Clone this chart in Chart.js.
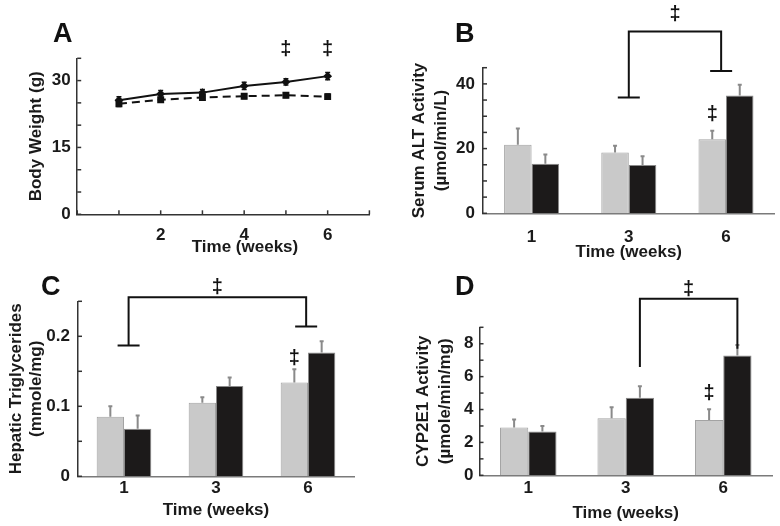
<!DOCTYPE html>
<html>
<head>
<meta charset="utf-8">
<script src="https://cdn.jsdelivr.net/npm/chart.js@4.4.1/dist/chart.umd.min.js"></script>
<style>
  body { margin: 0; background: #fff; }
  #fig { position: relative; width: 780px; height: 526px; }
  .panel { position: absolute; width: 390px; height: 263px; }
  .letter { position: absolute; font: bold 27px Arial, "Liberation Sans", sans-serif; line-height: 1; color: #111; }
</style>
</head>
<body>
<div id="fig">
  <div class="panel" style="left:0;top:0"><canvas id="chartA" width="390" height="263"></canvas></div>
  <div class="panel" style="left:390px;top:0"><canvas id="chartB" width="390" height="263"></canvas></div>
  <div class="panel" style="left:0;top:263px"><canvas id="chartC" width="390" height="263"></canvas></div>
  <div class="panel" style="left:390px;top:263px"><canvas id="chartD" width="390" height="263"></canvas></div>
  <div class="letter" style="left:53px;top:20px">A</div>
  <div class="letter" style="left:455px;top:20px">B</div>
  <div class="letter" style="left:41px;top:273px">C</div>
  <div class="letter" style="left:455px;top:273px">D</div>
</div>
<script>
// ---- datos ----
const weeksA = [1, 2, 3, 4, 5, 6];
const weightSolid = [25.6, 27.0, 27.3, 28.8, 29.7, 31.0];
const weightSolidErr = [0.8, 0.8, 0.7, 0.8, 0.7, 0.8];
const weightDashed = [24.8, 25.7, 26.2, 26.5, 26.7, 26.4];
const weightDashedErr = [0.6, 0.5, 0.5, 0.5, 0.5, 0.6];
const yTicksA = [0, 15, 30];
const xTicksA = [2, 4, 6];

const weeks = ['1', '3', '6'];

const altGray = [21.2, 18.8, 22.9];
const altGrayErr = [5.0, 2.1, 2.6];
const altBlack = [15.3, 14.9, 36.4];
const altBlackErr = [2.9, 2.7, 3.3];
const yTicksB = [0, 20, 40];

const tgGray = [0.085, 0.105, 0.134];
const tgGrayErr = [0.015, 0.008, 0.019];
const tgBlack = [0.068, 0.129, 0.177];
const tgBlackErr = [0.019, 0.012, 0.016];
const yTicksC = ['0', '0.1', '0.2'];

const cypGray = [2.9, 3.47, 3.37];
const cypGrayErr = [0.5, 0.67, 0.65];
const cypBlack = [2.66, 4.71, 7.29];
const cypBlackErr = [0.34, 0.71, 0.63];
const yTicksD = [0, 2, 4, 6, 8];

// marcas de significancia (x: valor del eje x o [dataset, indice]; y: valor)
const daggersA = [{x: 5, y: 36.9}, {x: 6, y: 36.9}];
const bracketB = {from: 1, to: 1.95, top: 56.2, left: 35.8, right: 44, mark: 61.5, cap: true};
const daggersB = [{x: [0, 2], y: 30.4}];
const bracketC = {from: 0.05, to: 1.98, top: 0.2557, left: 0.1867, right: 0.214, mark: 0.27, cap: true};
const daggersC = [{x: [0, 2], y: 0.169}];
const bracketD = {from: [1, 1], to: [1, 2], top: 10.74, left: 6.58, right: 7.7, mark: 11.3, cap: false};
const daggersD = [{x: [0, 2], y: 5.0}];

Chart.defaults.font.family = 'Arial, "Liberation Sans", sans-serif';
Chart.defaults.font.weight = 'bold';
Chart.defaults.color = '#1a1a1a';
Chart.defaults.animation = false;
Chart.defaults.plugins.legend.display = false;
Chart.defaults.plugins.tooltip.enabled = false;

function xPos(chart, v) {
  if (Array.isArray(v)) return chart.getDatasetMeta(v[0]).data[v[1]].x;
  return chart.scales.x.getPixelForValue(v);
}

// marcas de los ejes hacia adentro
const inTicks = {
  id: 'inTicks',
  afterDraw(chart, args, opts) {
    const ctx = chart.ctx;
    ctx.save();
    ctx.strokeStyle = '#333';
    ctx.lineWidth = 1.5;
    (opts.axes || []).forEach(id => {
      const sc = chart.scales[id];
      sc.ticks.forEach(t => {
        const p = sc.getPixelForValue(t.value);
        ctx.beginPath();
        if (sc.isHorizontal()) { ctx.moveTo(p, sc.top); ctx.lineTo(p, sc.top - 4); }
        else { ctx.moveTo(sc.right, p); ctx.lineTo(sc.right + 4, p); }
        ctx.stroke();
      });
    });
    ctx.restore();
  }
};

const errorBars = {
  id: 'errorBars',
  afterDatasetsDraw(chart) {
    const ctx = chart.ctx, y = chart.scales.y;
    chart.data.datasets.forEach((ds, i) => {
      if (!ds.errors) return;
      const meta = chart.getDatasetMeta(i);
      ctx.save();
      ctx.strokeStyle = ds.errorColor;
      ctx.lineWidth = ds.errorWidth;
      meta.data.forEach((el, j) => {
        const raw = ds.data[j];
        const val = typeof raw === 'object' ? raw.y : raw;
        const top = y.getPixelForValue(val + ds.errors[j]);
        const bot = ds.errorBoth ? y.getPixelForValue(val - ds.errors[j]) : el.y;
        const c = ds.errorCap;
        ctx.beginPath();
        ctx.moveTo(el.x, bot); ctx.lineTo(el.x, top);
        ctx.moveTo(el.x - c, top); ctx.lineTo(el.x + c, top);
        if (ds.errorBoth) { ctx.moveTo(el.x - c, bot); ctx.lineTo(el.x + c, bot); }
        ctx.stroke();
      });
      ctx.restore();
    });
  }
};

const marks = {
  id: 'marks',
  afterDraw(chart, args, opts) {
    const ctx = chart.ctx, y = chart.scales.y;
    ctx.save();
    ctx.strokeStyle = '#111';
    ctx.fillStyle = '#111';
    ctx.lineWidth = 2;
    ctx.textAlign = 'center';
    ctx.textBaseline = 'middle';
    if (opts.xTitle) {
      // titulo del eje x de A, centrado sobre la semana 4 como en la figura
      ctx.font = 'bold 17px Arial, "Liberation Sans", sans-serif';
      ctx.fillStyle = '#1a1a1a';
      ctx.fillText(opts.xTitle.text, xPos(chart, opts.xTitle.at), opts.xTitle.y);
      ctx.fillStyle = '#111';
    }
    ctx.font = 'bold 20px Arial, "Liberation Sans", sans-serif';
    const b = opts.bracket;
    if (b) {
      const x1 = xPos(chart, b.from), x2 = xPos(chart, b.to);
      const yt = y.getPixelForValue(b.top);
      const y1 = y.getPixelForValue(b.left), y2 = y.getPixelForValue(b.right);
      ctx.beginPath();
      ctx.moveTo(x1, y1); ctx.lineTo(x1, yt); ctx.lineTo(x2, yt); ctx.lineTo(x2, y2);
      if (b.cap) {
        ctx.moveTo(x1 - 11, y1); ctx.lineTo(x1 + 11, y1);
        ctx.moveTo(x2 - 11, y2); ctx.lineTo(x2 + 11, y2);
      }
      ctx.stroke();
      ctx.fillText('\u2021', (x1 + x2) / 2, y.getPixelForValue(b.mark));
    }
    (opts.daggers || []).forEach(d => {
      ctx.fillText('\u2021', xPos(chart, d.x), y.getPixelForValue(d.y));
    });
    ctx.restore();
  }
};

// fija el área del gráfico: left/top/right/bottom en px del canvas
function frame(left, top, right, bottom) {
  return {
    padding: {left: 0, top: top, right: 390 - right, bottom: 0},
    fitX: s => { s.height = 263 - bottom; },
    fitY: s => { s.width = left; }
  };
}

function yTitle(text, lh, pad) {
  return {display: true, text: text, font: {size: 17, weight: 'bold', lineHeight: lh}, padding: {top: pad, bottom: 0}};
}
function xTitle(pad) {
  return {display: true, text: 'Time (weeks)', font: {size: 17, weight: 'bold'}, padding: {top: 0, bottom: pad}};
}

// ---- A ----
const fA = frame(77.2, 58.3, 369.4, 214.3);
new Chart(document.getElementById('chartA'), {
  type: 'line',
  data: {
    datasets: [{
      data: weeksA.map((w, i) => ({x: w, y: weightSolid[i]})),
      borderColor: '#111', borderWidth: 2,
      pointStyle: 'rectRot', pointRadius: 3, pointBackgroundColor: '#111', pointBorderColor: '#111',
      errors: weightSolidErr, errorBoth: true, errorColor: '#111', errorWidth: 1.5, errorCap: 2.5
    }, {
      data: weeksA.map((w, i) => ({x: w, y: weightDashed[i]})),
      borderColor: '#111', borderWidth: 2, borderDash: [8, 5],
      pointStyle: 'rect', pointRadius: 3.5, pointBackgroundColor: '#111', pointBorderColor: '#111',
      errors: weightDashedErr, errorBoth: true, errorColor: '#111', errorWidth: 1.5, errorCap: 2.5
    }]
  },
  options: {
    responsive: false, devicePixelRatio: 1,
    layout: {padding: fA.padding},
    scales: {
      x: {
        type: 'linear', min: 0, max: 7, afterFit: fA.fitX,
        grid: {display: false, drawTicks: false},
        border: {color: '#333', width: 1.5},
        ticks: {stepSize: 1, autoSkip: false, padding: 10.5, font: {size: 17}, callback: v => xTicksA.includes(v) ? v : ''},
        title: {display: false}
      },
      y: {
        min: 0, max: 35, afterFit: fA.fitY,
        grid: {display: false, drawTicks: false},
        border: {color: '#333', width: 1.5},
        ticks: {stepSize: 5, autoSkip: false, padding: 6.5, font: {size: 17}, callback: v => yTicksA.includes(v) ? v : ''},
        title: yTitle('Body Weight (g)', 1.2, 26)
      }
    },
    plugins: {
      inTicks: {axes: ['x', 'y']},
      marks: {daggers: daggersA, xTitle: {text: 'Time (weeks)', at: 4.02, y: 247}}
    }
  },
  plugins: [inTicks, errorBars, marks]
});

// ---- barras B, C, D ----
function barChart(id, f, gray, grayErr, black, blackErr, opt) {
  new Chart(document.getElementById(id), {
    type: 'bar',
    data: {
      labels: weeks,
      datasets: [{
        data: gray, backgroundColor: '#c9c9c9', borderColor: '#a3a3a3', borderWidth: 1,
        errors: grayErr, errorColor: '#8a8a8a', errorWidth: 2, errorCap: 2
      }, {
        data: black, backgroundColor: '#1c1a1a', borderColor: '#8a8a8a', borderWidth: 1,
        errors: blackErr, errorColor: '#8a8a8a', errorWidth: 2, errorCap: 2
      }]
    },
    options: {
      responsive: false, devicePixelRatio: 1,
      layout: {padding: f.padding},
      datasets: {bar: {categoryPercentage: opt.catPct, barPercentage: 1}},
      scales: {
        x: {
          afterFit: f.fitX,
          grid: {display: false, drawTicks: false},
          border: {color: '#7a7a7a', width: 1.5},
          ticks: {autoSkip: false, padding: opt.xPad, font: {size: 17}},
          title: xTitle(opt.xTitlePad)
        },
        y: {
          min: 0, max: opt.max, afterFit: f.fitY,
          grid: {display: false, drawTicks: false},
          border: {color: '#333', width: 1.5},
          ticks: {stepSize: opt.step, autoSkip: false, padding: opt.yPad, font: {size: 17}, callback: opt.label},
          title: yTitle(opt.title, opt.lh, opt.titlePad)
        }
      },
      plugins: {inTicks: {axes: ['y']}, marks: {bracket: opt.bracket, daggers: opt.daggers}}
    },
    plugins: [inTicks, errorBars, marks]
  });
}

barChart('chartB', frame(93, 67.7, 384.6, 213.3), altGray, altGrayErr, altBlack, altBlackErr, {
  max: 45, step: 5, catPct: 0.566, xPad: 13.5, xTitlePad: 0, yPad: 8,
  label: v => yTicksB.includes(v) ? v : '',
  title: ['Serum ALT Activity', '(\u00b5mol/min/L)'], lh: 1.25, titlePad: 19,
  bracket: bracketB, daggers: daggersB
});

barChart('chartC', frame(78, 38.3, 354, 213.3), tgGray, tgGrayErr, tgBlack, tgBlackErr, {
  max: 0.25, step: 0.05, catPct: 0.594, xPad: 1.5, xTitlePad: 5, yPad: 8,
  label: v => { const s = String(+v.toFixed(2)); return yTicksC.includes(s) ? s : ''; },
  title: ['Hepatic Triglycerides', '(mmole/mg)'], lh: 1.2, titlePad: 6,
  bracket: bracketC, daggers: daggersC
});

barChart('chartD', frame(89.5, 64.3, 382, 212.3), cypGray, cypGrayErr, cypBlack, cypBlackErr, {
  max: 9, step: 1, catPct: 0.58, xPad: 3.3, xTitlePad: 2, yPad: 6,
  label: v => yTicksD.includes(v) ? v : '',
  title: ['CYP2E1 Activity', '(\u00b5mole/min/mg)'], lh: 1.25, titlePad: 23,
  bracket: bracketD, daggers: daggersD
});
</script>
</body>
</html>
